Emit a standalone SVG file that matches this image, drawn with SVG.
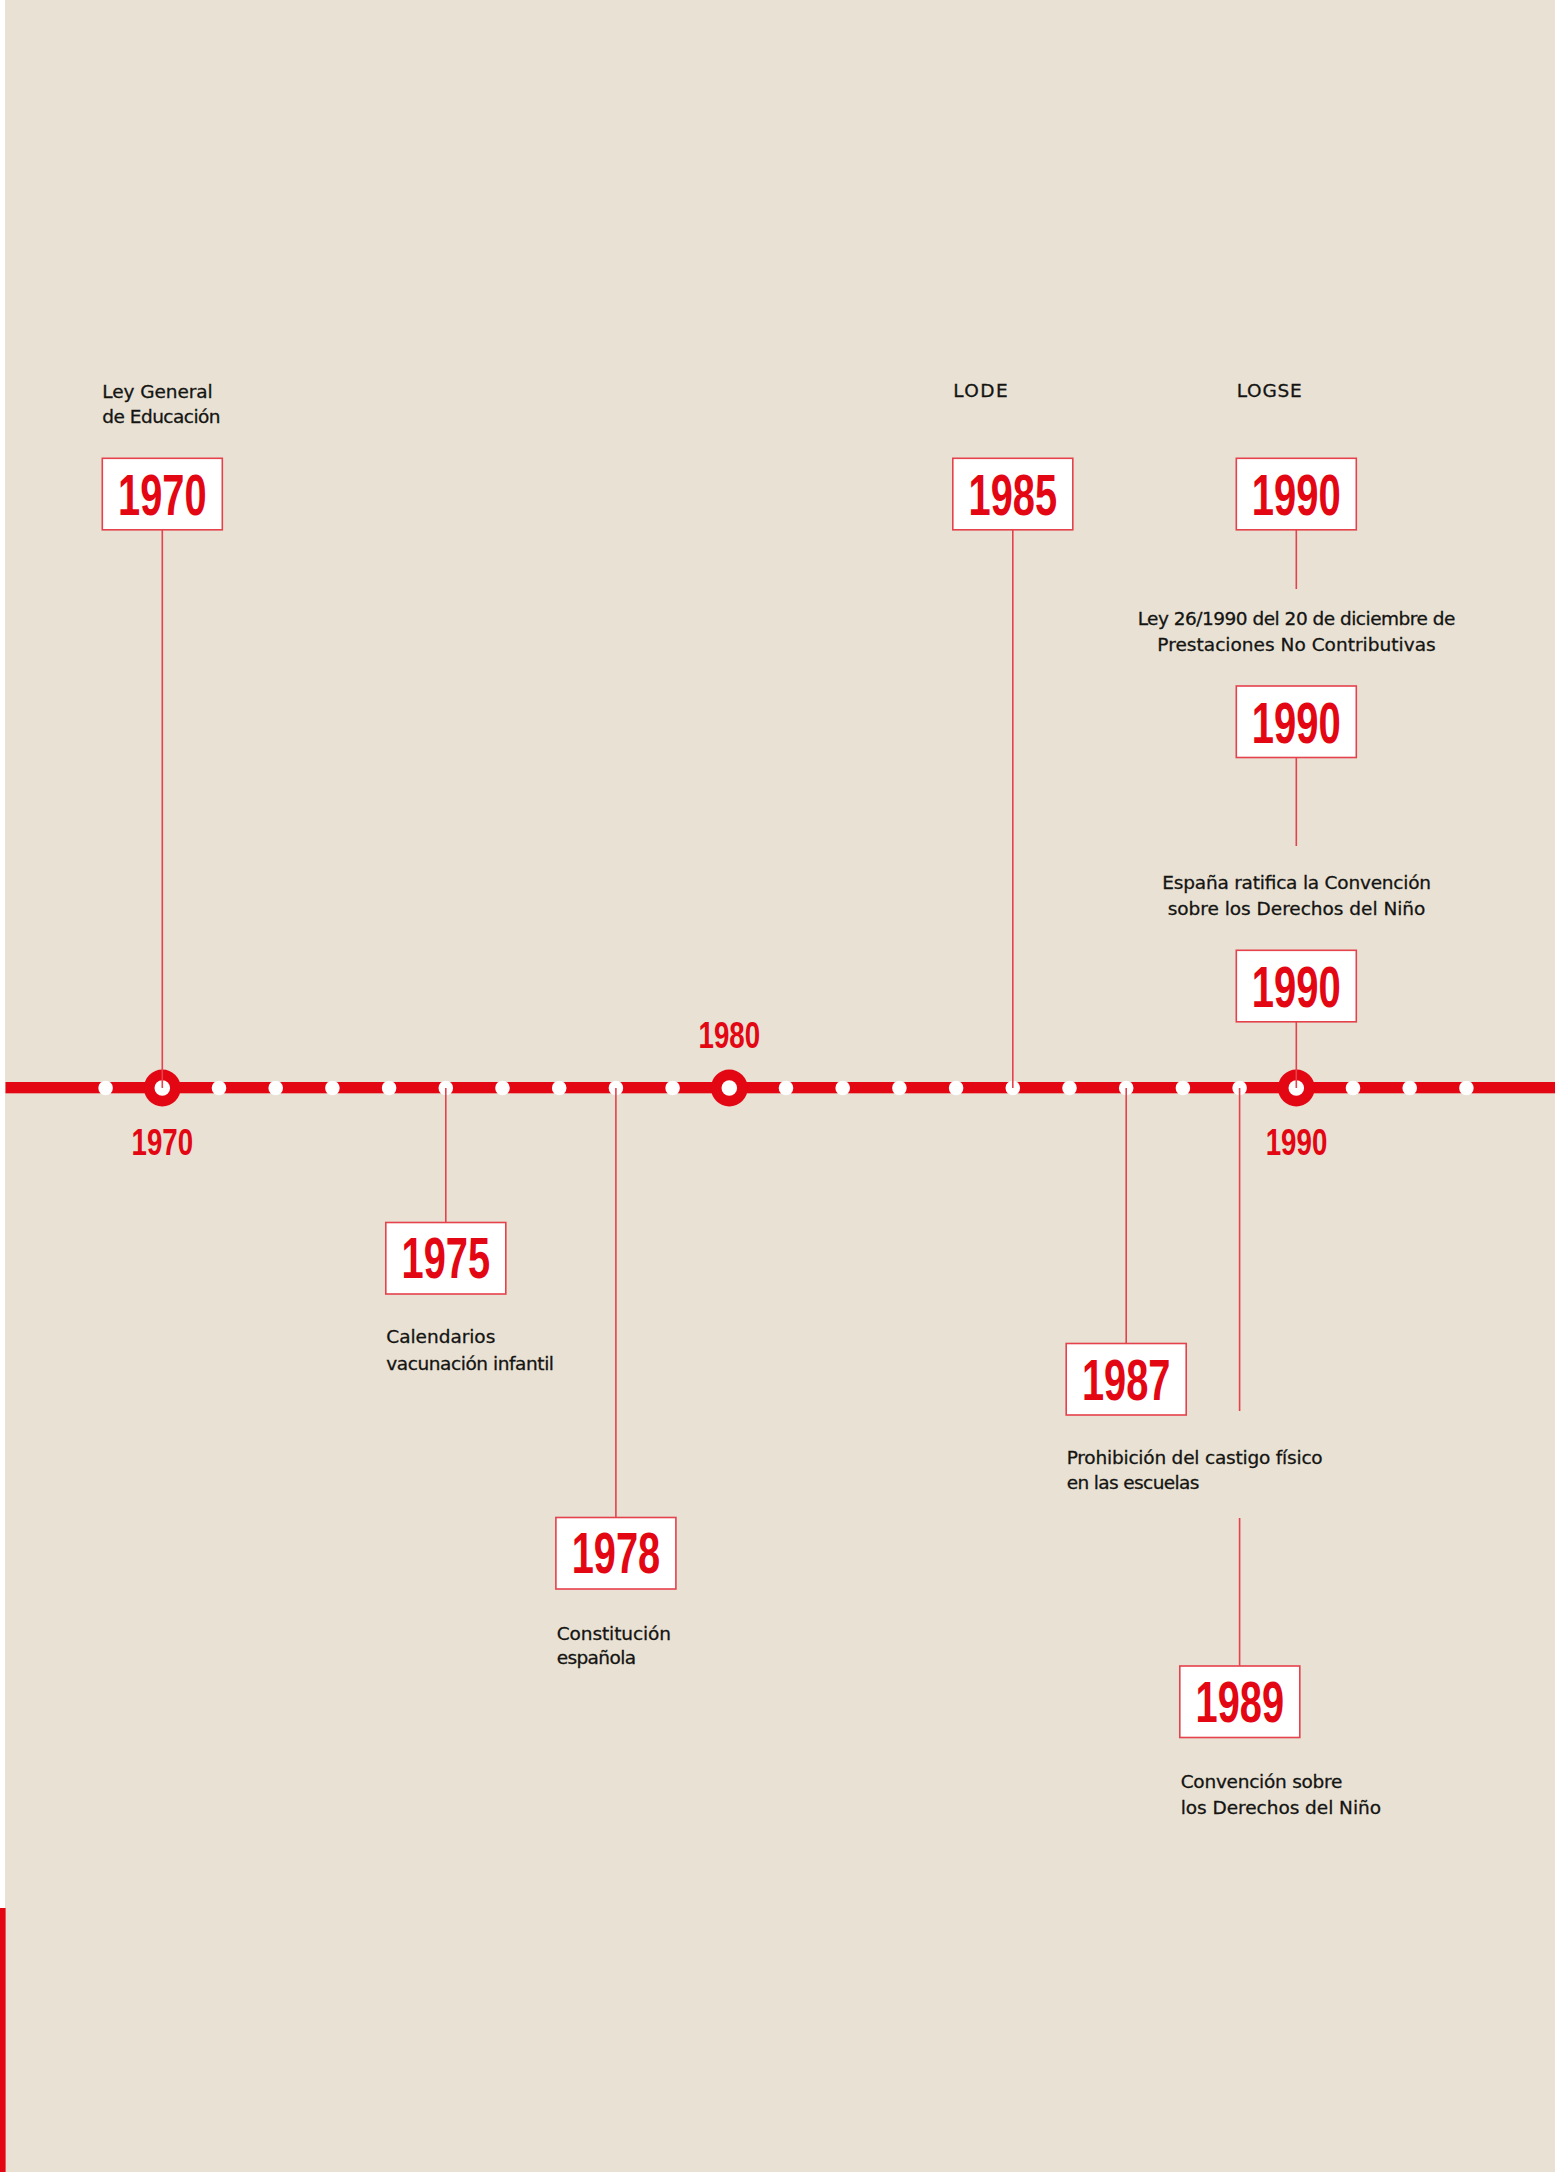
<svg xmlns="http://www.w3.org/2000/svg" width="1555" height="2172" viewBox="0 0 1555 2172">
<style>
.bg{fill:#E8E1D4}
.box{fill:#FFFFFF;stroke:#E5424C;stroke-width:1.6}
.num{font-family:"Liberation Sans",Arial,sans-serif;font-weight:bold;font-size:57px;fill:#E30613;text-anchor:middle}
.yr{font-family:"Liberation Sans",Arial,sans-serif;font-weight:bold;font-size:37px;fill:#E30613;text-anchor:middle}
.lbl{font-family:"DejaVu Sans","Liberation Sans",sans-serif;font-size:18.5px;fill:#141412;stroke:#141412;stroke-width:0.3}
.mid{text-anchor:middle}
.conn{stroke:#E5424C;stroke-width:1.6;fill:none}
.dot{fill:#FFFFFF}
.ring{fill:#E30613}
</style>
<rect x="0" y="0" width="1555" height="2172" fill="#FFFFFF"/>
<rect class="bg" x="5" y="0" width="1550" height="2172"/>
<rect x="0" y="1908" width="5.6" height="264" fill="#E30613"/>

<g id="timeline">
<rect x="5.5" y="1082" width="1549.5" height="11.3" fill="#E30613"/>
<g id="ticks">
<circle class="dot" cx="105.6" cy="1088" r="7.3"/>
<circle class="dot" cx="219.0" cy="1088" r="7.3"/>
<circle class="dot" cx="275.7" cy="1088" r="7.3"/>
<circle class="dot" cx="332.4" cy="1088" r="7.3"/>
<circle class="dot" cx="389.1" cy="1088" r="7.3"/>
<circle class="dot" cx="445.8" cy="1088" r="7.3"/>
<circle class="dot" cx="502.5" cy="1088" r="7.3"/>
<circle class="dot" cx="559.2" cy="1088" r="7.3"/>
<circle class="dot" cx="615.9" cy="1088" r="7.3"/>
<circle class="dot" cx="672.6" cy="1088" r="7.3"/>
<circle class="dot" cx="786.0" cy="1088" r="7.3"/>
<circle class="dot" cx="842.7" cy="1088" r="7.3"/>
<circle class="dot" cx="899.4" cy="1088" r="7.3"/>
<circle class="dot" cx="956.1" cy="1088" r="7.3"/>
<circle class="dot" cx="1012.8" cy="1088" r="7.3"/>
<circle class="dot" cx="1069.5" cy="1088" r="7.3"/>
<circle class="dot" cx="1126.2" cy="1088" r="7.3"/>
<circle class="dot" cx="1182.9" cy="1088" r="7.3"/>
<circle class="dot" cx="1239.6" cy="1088" r="7.3"/>
<circle class="dot" cx="1353.0" cy="1088" r="7.3"/>
<circle class="dot" cx="1409.7" cy="1088" r="7.3"/>
<circle class="dot" cx="1466.4" cy="1088" r="7.3"/>
</g>
<g id="decade-1970">
<circle class="ring" cx="162.3" cy="1088" r="18.4"/>
<circle class="dot" cx="162.3" cy="1088" r="7.8"/>
<text class="yr" x="162.3" y="1155" textLength="61.6" lengthAdjust="spacingAndGlyphs">1970</text>
</g>
<g id="decade-1980">
<circle class="ring" cx="729.3" cy="1088" r="18.4"/>
<circle class="dot" cx="729.3" cy="1088" r="7.8"/>
<text class="yr" x="729.3" y="1047.5" textLength="61.6" lengthAdjust="spacingAndGlyphs">1980</text>
</g>
<g id="decade-1990">
<circle class="ring" cx="1296.3" cy="1088" r="18.4"/>
<circle class="dot" cx="1296.3" cy="1088" r="7.8"/>
<text class="yr" x="1296.5" y="1155" textLength="61.6" lengthAdjust="spacingAndGlyphs">1990</text>
</g>
</g>

<g id="connectors">
<line class="conn" x1="162.3" y1="530" x2="162.3" y2="1088"/>
<line class="conn" x1="1012.8" y1="530" x2="1012.8" y2="1088"/>
<line class="conn" x1="1296.3" y1="530" x2="1296.3" y2="589"/>
<line class="conn" x1="1296.3" y1="757.5" x2="1296.3" y2="846"/>
<line class="conn" x1="1296.3" y1="1022" x2="1296.3" y2="1088"/>
<line class="conn" x1="445.8" y1="1088" x2="445.8" y2="1222.5"/>
<line class="conn" x1="615.9" y1="1088" x2="615.9" y2="1517.5"/>
<line class="conn" x1="1126.2" y1="1088" x2="1126.2" y2="1343.5"/>
<line class="conn" x1="1239.6" y1="1088" x2="1239.6" y2="1411"/>
<line class="conn" x1="1239.6" y1="1518" x2="1239.6" y2="1666"/>
</g>

<g id="node-1970">
<text class="lbl" x="102.3" y="398" textLength="110.3" lengthAdjust="spacing">Ley General</text>
<text class="lbl" x="102.3" y="423.3" textLength="118.3" lengthAdjust="spacing">de Educación</text>
<rect class="box" x="102.3" y="458.3" width="120" height="71.5"/>
<text class="num" x="162.3" y="515" textLength="88.5" lengthAdjust="spacingAndGlyphs">1970</text>
</g>

<g id="node-1985">
<text class="lbl" x="953.3" y="396.7" textLength="54.3" lengthAdjust="spacing">LODE</text>
<rect class="box" x="952.8" y="458.3" width="120" height="71.5"/>
<text class="num" x="1012.8" y="515" textLength="88.5" lengthAdjust="spacingAndGlyphs">1985</text>
</g>

<g id="node-1990-logse">
<text class="lbl" x="1236.7" y="397" textLength="65" lengthAdjust="spacing">LOGSE</text>
<rect class="box" x="1236.3" y="458.3" width="120" height="71.5"/>
<text class="num" x="1296.3" y="515" textLength="89" lengthAdjust="spacingAndGlyphs">1990</text>
</g>

<g id="node-1990-prestaciones">
<text class="lbl mid" x="1296.5" y="625" textLength="317.7" lengthAdjust="spacing">Ley 26/1990 del 20 de diciembre de</text>
<text class="lbl mid" x="1296.5" y="650.7" textLength="278.3" lengthAdjust="spacing">Prestaciones No Contributivas</text>
<rect class="box" x="1236.3" y="686" width="120" height="71.5"/>
<text class="num" x="1296.3" y="742.5" textLength="89" lengthAdjust="spacingAndGlyphs">1990</text>
</g>

<g id="node-1990-convencion">
<text class="lbl mid" x="1296.7" y="889.3" textLength="268.7" lengthAdjust="spacing">España ratifica la Convención</text>
<text class="lbl mid" x="1296.5" y="915" textLength="257.7" lengthAdjust="spacing">sobre los Derechos del Niño</text>
<rect class="box" x="1236.3" y="950.3" width="120" height="71.5"/>
<text class="num" x="1296.3" y="1006.5" textLength="89" lengthAdjust="spacingAndGlyphs">1990</text>
</g>

<g id="node-1975">
<rect class="box" x="385.8" y="1222.5" width="120" height="71.5"/>
<text class="num" x="445.8" y="1278" textLength="88.5" lengthAdjust="spacingAndGlyphs">1975</text>
<text class="lbl" x="386.3" y="1343.3" textLength="109" lengthAdjust="spacing">Calendarios</text>
<text class="lbl" x="386.3" y="1370" textLength="167.7" lengthAdjust="spacing">vacunación infantil</text>
</g>

<g id="node-1978">
<rect class="box" x="555.9" y="1517.5" width="120" height="71.5"/>
<text class="num" x="615.9" y="1573" textLength="88.5" lengthAdjust="spacingAndGlyphs">1978</text>
<text class="lbl" x="556.7" y="1640" textLength="114.3" lengthAdjust="spacing">Constitución</text>
<text class="lbl" x="556.7" y="1664" textLength="79.3" lengthAdjust="spacing">española</text>
</g>

<g id="node-1987">
<rect class="box" x="1066.2" y="1343.5" width="120" height="71.5"/>
<text class="num" x="1126.2" y="1399.5" textLength="88.5" lengthAdjust="spacingAndGlyphs">1987</text>
<text class="lbl" x="1066.7" y="1464" textLength="256" lengthAdjust="spacing">Prohibición del castigo físico</text>
<text class="lbl" x="1066.7" y="1489.3" textLength="132.7" lengthAdjust="spacing">en las escuelas</text>
</g>

<g id="node-1989">
<rect class="box" x="1179.8" y="1666" width="120" height="71.5"/>
<text class="num" x="1239.8" y="1722" textLength="88.5" lengthAdjust="spacingAndGlyphs">1989</text>
<text class="lbl" x="1180.7" y="1788.3" textLength="161.7" lengthAdjust="spacing">Convención sobre</text>
<text class="lbl" x="1180.7" y="1814" textLength="200.3" lengthAdjust="spacing">los Derechos del Niño</text>
</g>
</svg>
